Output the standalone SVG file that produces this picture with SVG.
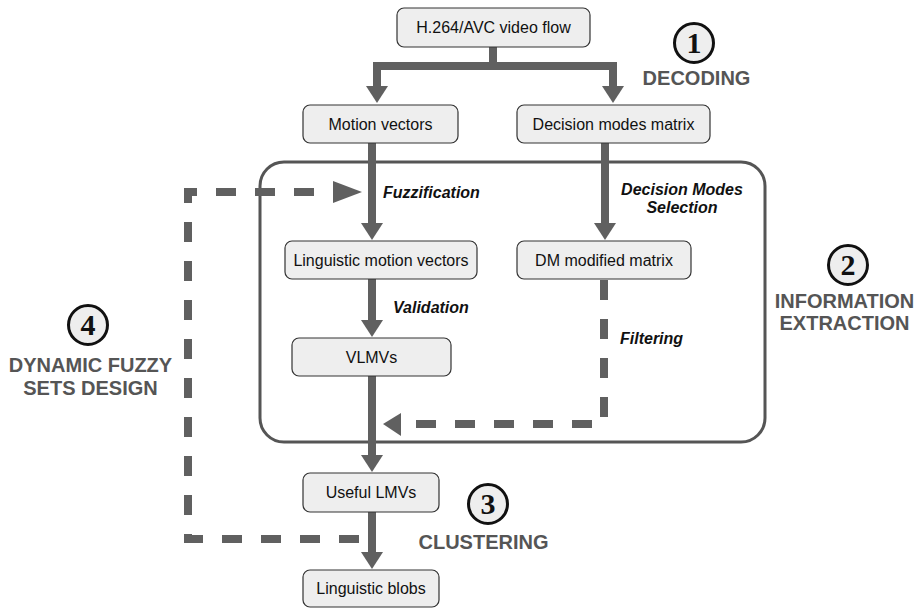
<svg xmlns="http://www.w3.org/2000/svg" width="918" height="609" viewBox="0 0 918 609">
<style>
.box{fill:#eeeeee;stroke:#333;stroke-width:1.2}
.nt{font-family:"Liberation Sans",Arial,sans-serif;font-size:16px;fill:#111;text-anchor:middle}
.lbl{font-family:"Liberation Sans",Arial,sans-serif;font-size:16px;font-weight:bold;font-style:italic;fill:#111}
.stage{font-family:"Liberation Sans",Arial,sans-serif;font-size:20px;font-weight:bold;fill:#555;text-anchor:middle}
.num{font-family:"Liberation Serif","Times New Roman",serif;font-size:30px;font-weight:bold;fill:#111;text-anchor:middle}
.circ{fill:#eeeeee;stroke:#111;stroke-width:3}
.solid{fill:none;stroke:#606060;stroke-width:8}
.dash{fill:none;stroke:#606060;stroke-width:8;stroke-dasharray:20 19}
.head{fill:#606060}
.frame{fill:none;stroke:#555;stroke-width:3}
</style>
<defs>
<marker id="arr" markerUnits="userSpaceOnUse" markerWidth="18" markerHeight="22" viewBox="0 0 17 22" refX="2" refY="11" orient="auto">
<path d="M0,0 L17,11 L0,22 z" fill="#606060"/>
</marker>
</defs>
<rect class="frame" x="260" y="162" width="505" height="280" rx="24"/>
<g id="connectors">
<path class="solid" d="M493,47 V66 H377 V88" marker-end="url(#arr)"/>
<path class="solid" d="M493,66 H613 V88" marker-end="url(#arr)"/>
<path class="solid" d="M372,143 V225" marker-end="url(#arr)"/>
<path class="solid" d="M605,143 V225" marker-end="url(#arr)"/>
<path class="solid" d="M372,279 V322" marker-end="url(#arr)"/>
<path class="solid" d="M372,376 V457" marker-end="url(#arr)"/>
<path class="solid" d="M372,512 V554" marker-end="url(#arr)"/>
<path class="dash" d="M314,192 H188 V539 H362"/>
<polygon class="head" points="333,181 362,192 333,203"/>
<path class="dash" d="M604,280 V424 H400"/>
<polygon class="head" points="401,413 383,424 401,436"/>
</g>
<g id="n-h264"><rect class="box" x="397" y="8" width="193" height="39" rx="7"/><text class="nt" x="493.5" y="33">H.264/AVC video flow</text></g>
<g id="n-motion"><rect class="box" x="303" y="105" width="155" height="38" rx="7"/><text class="nt" x="380.5" y="130">Motion vectors</text></g>
<g id="n-decision"><rect class="box" x="517" y="105" width="193" height="38" rx="7"/><text class="nt" x="613.5" y="130">Decision modes matrix</text></g>
<g id="n-lmv"><rect class="box" x="285" y="241" width="192" height="38" rx="7"/><text class="nt" x="381" y="266">Linguistic motion vectors</text></g>
<g id="n-dm"><rect class="box" x="517" y="241" width="174" height="38" rx="7"/><text class="nt" x="604" y="266">DM modified matrix</text></g>
<g id="n-vlmv"><rect class="box" x="292" y="338" width="159" height="38" rx="7"/><text class="nt" x="371.5" y="363">VLMVs</text></g>
<g id="n-useful"><rect class="box" x="303" y="473" width="136" height="39" rx="7"/><text class="nt" x="371" y="498">Useful LMVs</text></g>
<g id="n-blobs"><rect class="box" x="303" y="570" width="136" height="37" rx="7"/><text class="nt" x="371" y="594">Linguistic blobs</text></g>
<g id="labels">
<text class="lbl" x="383" y="198">Fuzzification</text>
<text class="lbl" x="682" y="195" text-anchor="middle">Decision Modes</text>
<text class="lbl" x="682" y="213" text-anchor="middle">Selection</text>
<text class="lbl" x="393" y="313">Validation</text>
<text class="lbl" x="620" y="344">Filtering</text>
</g>
<g id="stage1"><circle class="circ" cx="694" cy="43" r="19.5"/><text class="num" x="694" y="53">1</text><text class="stage" x="696.5" y="85">DECODING</text></g>
<g id="stage2"><circle class="circ" cx="848" cy="265" r="19.5"/><text class="num" x="848" y="275">2</text><text class="stage" x="844.5" y="308">INFORMATION</text><text class="stage" x="844.5" y="330">EXTRACTION</text></g>
<g id="stage3"><circle class="circ" cx="488" cy="504" r="19.5"/><text class="num" x="488" y="514">3</text><text class="stage" x="483.5" y="549">CLUSTERING</text></g>
<g id="stage4"><circle class="circ" cx="88" cy="325" r="19.5"/><text class="num" x="88" y="335">4</text><text class="stage" x="90.5" y="372">DYNAMIC FUZZY</text><text class="stage" x="90.5" y="395">SETS DESIGN</text></g>
</svg>
